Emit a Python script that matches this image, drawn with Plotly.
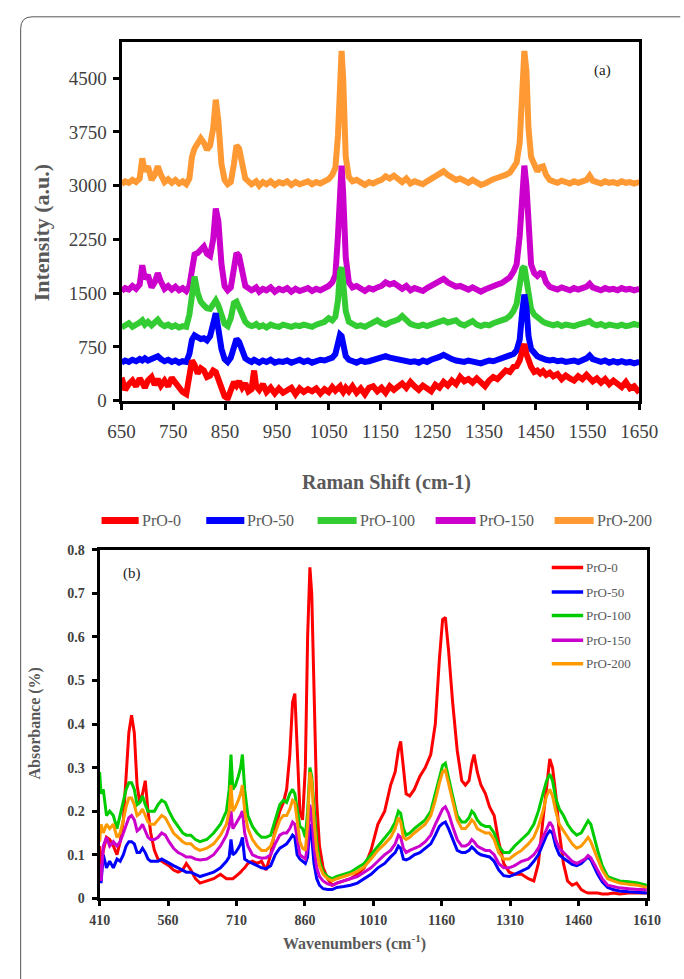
import plotly.graph_objects as go

W, H = 684, 979

series_names = ["PrO-0", "PrO-50", "PrO-100", "PrO-150", "PrO-200"]
raman_colors = ["#FF0000", "#0000FF", "#33CC33", "#CC00CC", "#FF9933"]
ftir_colors = ["#FF0000", "#0000FF", "#00CC00", "#CC00CC", "#FF9900"]

# ---------------- (a) Raman spectra ----------------
raman_shift = [
    650, 657, 664, 671, 678, 685, 690, 695, 701, 708,
    714, 720, 726, 733, 740, 747, 754, 761, 768, 775,
    781, 786, 791, 797, 803, 809, 815, 821, 827, 832,
    837, 843, 849, 855, 861, 867, 872, 877, 883, 889,
    895, 901, 906, 910, 916, 923, 930, 938, 946, 954,
    962, 970, 978, 986, 994, 1002, 1010, 1018, 1026, 1034,
    1042, 1050, 1057, 1063, 1068, 1072, 1075, 1078, 1083, 1089,
    1096, 1104, 1112, 1120, 1128, 1136, 1144, 1152, 1160, 1168,
    1176, 1184, 1192, 1200, 1208, 1216, 1224, 1232, 1240, 1248,
    1256, 1264, 1272, 1280, 1288, 1296, 1304, 1312, 1320, 1328,
    1336, 1344, 1352, 1360, 1368, 1376, 1384, 1392, 1400, 1407,
    1413, 1419, 1424, 1428, 1432, 1436, 1441, 1447, 1453, 1459,
    1464, 1470, 1477, 1484, 1492, 1500, 1508, 1516, 1524, 1532,
    1540, 1548, 1554, 1560, 1568, 1576, 1584, 1592, 1600, 1608,
    1616, 1624, 1632, 1640, 1650,
]

raman_pro0 = [
    320, 150, 230, 280, 200, 310, 250, 180, 280, 330,
    220, 300, 210, 280, 200, 320, 250, 180, 120, 90,
    300, 560, 500, 380, 450, 420, 330, 350, 420, 400,
    300, 180, 60, 30, 140, 260, 210, 270, 180, 240,
    130, 160, 420, 200, 150, 230, 120, 180, 100, 170,
    110, 150, 180, 90, 170, 120, 160, 130, 170, 100,
    160, 120, 190, 140, 170, 200, 150, 120, 180, 130,
    200, 110, 170, 90, 180, 200, 130, 180, 110, 200,
    150, 190, 240, 180, 260, 200, 150, 210, 170, 130,
    220, 180, 260, 210, 280, 230, 330, 270, 300, 250,
    310, 260, 200, 280, 330, 300, 370, 420, 400, 470,
    480, 560, 700, 790, 650, 540, 470, 400, 420, 380,
    410, 360, 390, 340, 370, 300, 350, 310, 280, 340,
    300, 360, 320, 270, 310, 250, 300, 230, 280, 240,
    190, 260, 170, 200, 110,
]

raman_pro50 = [
    530, 560, 540, 570, 550, 580, 560, 590, 560, 580,
    600, 620, 580, 550, 570, 540, 560, 530, 550, 540,
    650, 850, 910, 890, 860, 870, 840, 900, 1050, 1220,
    1000, 720, 580, 540, 600, 780, 860, 820, 680, 590,
    560, 540, 570, 550, 530, 560, 540, 570, 530, 550,
    540, 560, 530, 550, 570, 540, 560, 530, 550, 570,
    560, 580, 600, 650, 800, 920, 900, 780, 620, 570,
    550, 530, 560, 540, 550, 570, 580, 600, 620, 600,
    590, 570, 550, 560, 540, 550, 530, 560, 540, 570,
    580, 610, 640, 600, 580, 560, 550, 540, 560, 550,
    530, 520, 540, 560, 550, 570, 580, 600, 620, 650,
    700, 850, 1250, 1480, 1300, 900, 720, 660, 620, 600,
    580, 570, 560, 570, 550, 560, 540, 550, 560, 540,
    560, 590, 630, 580, 560, 540, 560, 530, 550, 530,
    550, 530, 540, 520, 540,
]

raman_pro100 = [
    1020, 1040, 1080, 1030, 1050, 1090, 1120, 1060, 1100, 1050,
    1090, 1130, 1070, 1040, 1060, 1030, 1050, 1020, 1040, 1030,
    1200, 1550, 1730, 1500, 1380, 1330, 1290, 1280, 1360, 1400,
    1330, 1170, 1070, 1040, 1150, 1360, 1380, 1300, 1200, 1100,
    1060, 1040, 1050, 1070, 1030, 1050, 1020, 1060, 1040, 1030,
    1060, 1040, 1030, 1050, 1040, 1060, 1050, 1030, 1060, 1080,
    1100, 1150, 1120, 1170, 1400, 1800, 1860, 1650, 1250, 1100,
    1060, 1040, 1050, 1030, 1060, 1100, 1120, 1080, 1060, 1090,
    1100, 1130, 1180, 1120, 1070, 1050, 1040, 1060, 1040, 1060,
    1080, 1110, 1120, 1090, 1100, 1120, 1070, 1050, 1080, 1110,
    1060, 1040, 1060, 1050, 1080, 1100, 1110, 1140, 1180, 1250,
    1350, 1600, 1840, 1870, 1700, 1450, 1280, 1200, 1160, 1120,
    1100, 1080, 1060, 1050, 1070, 1040, 1060, 1050, 1040, 1060,
    1070, 1090, 1110, 1070, 1050, 1070, 1040, 1060, 1050, 1040,
    1060, 1040, 1050, 1070, 1050,
]

raman_pro150 = [
    1530, 1570, 1550, 1600, 1560, 1620, 1890, 1700, 1750, 1580,
    1650, 1780, 1660, 1560, 1600, 1550, 1590, 1540, 1570, 1530,
    1600, 1900, 2040, 2060, 2120, 2150, 2050, 2020, 2250, 2680,
    2500, 1900, 1600, 1540, 1580, 1850, 2060, 2020, 1750, 1600,
    1570, 1540, 1560, 1580, 1520, 1560, 1540, 1580, 1520, 1560,
    1540, 1570, 1520, 1560, 1530, 1550, 1570, 1530, 1560, 1540,
    1570, 1600, 1650, 1750, 2300, 3100, 3280, 2900, 2000, 1650,
    1580, 1600, 1560, 1530, 1570, 1550, 1580, 1600, 1650, 1620,
    1640, 1590, 1560, 1600, 1540, 1570, 1550, 1530, 1570, 1600,
    1630, 1670, 1700, 1650, 1620, 1590, 1600, 1570, 1550, 1580,
    1540, 1520, 1550, 1580, 1600, 1620, 1640, 1680, 1720, 1800,
    1900, 2300, 3000, 3280, 3000, 2400, 1900, 1780, 1740, 1780,
    1770, 1650, 1590, 1570, 1550, 1580, 1560, 1540, 1570, 1550,
    1570, 1590, 1630, 1580, 1560, 1540, 1570, 1550, 1560, 1540,
    1570, 1550, 1560, 1540, 1560,
]

raman_pro200 = [
    3020, 3060, 3040, 3080, 3050, 3100, 3380, 3200, 3270, 3080,
    3150, 3270, 3150, 3050, 3090, 3040, 3080, 3030, 3060, 3020,
    3100, 3400, 3520, 3580, 3660, 3600, 3500, 3560, 3800, 4200,
    3900, 3300, 3080, 3020, 3050, 3300, 3560, 3520, 3250, 3100,
    3060, 3020, 3040, 3060, 3000, 3050, 3020, 3060, 3010, 3050,
    3030, 3060, 3010, 3050, 3020, 3040, 3060, 3020, 3050, 3030,
    3060, 3090, 3150, 3250, 3700, 4600, 4880, 4500, 3400, 3120,
    3060, 3080, 3040, 3010, 3050, 3030, 3060, 3080, 3130, 3100,
    3140, 3080, 3050, 3100, 3030, 3060, 3040, 3020, 3060, 3090,
    3120, 3160, 3200, 3150, 3110, 3080, 3100, 3060, 3040, 3080,
    3050, 3010, 3030, 3070, 3090, 3110, 3120, 3150, 3180, 3250,
    3320, 3600, 4300, 4880, 4600, 3800, 3400, 3280, 3200, 3260,
    3270, 3150, 3080, 3060, 3040, 3070, 3050, 3030, 3060, 3040,
    3060, 3080, 3140, 3070, 3050, 3030, 3060, 3040, 3050, 3030,
    3060, 3040, 3050, 3030, 3050,
]

raman_xticks = [650, 750, 850, 950, 1050, 1150, 1250, 1350, 1450, 1550, 1650]
raman_yticks = [0, 750, 1500, 2250, 3000, 3750, 4500]

# ---------------- (b) FTIR spectra ----------------
wavenumber = [
    410, 413, 418, 425, 432, 440, 448, 455, 462, 468,
    474, 480, 486, 492, 498, 504, 510, 516, 522, 530,
    538, 546, 554, 562, 572, 582, 592, 600, 610, 620,
    630, 645, 660, 675, 688, 694, 698, 702, 708, 714,
    719, 723, 728, 735, 745, 755, 765, 775, 785, 795,
    805, 813, 820, 827, 833, 838, 843, 849, 855, 861,
    866, 871, 875, 880, 886, 892, 900, 910, 920, 930,
    945, 960, 975, 990, 1005, 1020, 1035, 1048, 1058, 1065,
    1070, 1076, 1082, 1090, 1100, 1112, 1124, 1136, 1146, 1155,
    1162, 1168, 1175, 1184, 1194, 1204, 1212, 1220, 1226, 1231,
    1238, 1246, 1256, 1265, 1275, 1285, 1296, 1308, 1320, 1335,
    1350, 1362, 1372, 1382, 1390, 1397, 1403, 1410, 1418, 1427,
    1436, 1446, 1456, 1466, 1474, 1481, 1487, 1494, 1502, 1512,
    1524, 1536, 1550, 1570, 1590, 1610,
]

abs_pro0 = [
    0.12, 0.07, 0.11, 0.14, 0.135, 0.12, 0.10, 0.13, 0.18, 0.28,
    0.38, 0.42, 0.38, 0.26, 0.22, 0.24, 0.27, 0.20, 0.15, 0.11,
    0.09, 0.085, 0.08, 0.075, 0.065, 0.06, 0.065, 0.08, 0.065, 0.045,
    0.035, 0.04, 0.045, 0.055, 0.045, 0.045, 0.045, 0.045, 0.05, 0.055,
    0.06, 0.065, 0.07, 0.08, 0.085, 0.08, 0.085, 0.065, 0.10, 0.16,
    0.20, 0.22, 0.25, 0.33, 0.45, 0.47, 0.35, 0.20, 0.18, 0.30,
    0.60, 0.76, 0.70, 0.45, 0.22, 0.12, 0.07, 0.045, 0.03, 0.035,
    0.04, 0.045, 0.055, 0.07, 0.11, 0.17, 0.20, 0.26, 0.29, 0.34,
    0.36, 0.30, 0.24, 0.235, 0.25, 0.28, 0.30, 0.33, 0.40, 0.55,
    0.64, 0.645, 0.57, 0.45, 0.34, 0.27, 0.26, 0.27, 0.31, 0.33,
    0.29, 0.26, 0.24, 0.21, 0.19, 0.13, 0.08, 0.06, 0.055, 0.055,
    0.045, 0.04, 0.08, 0.18, 0.26, 0.32, 0.30, 0.24, 0.15, 0.08,
    0.04, 0.03, 0.035, 0.02, 0.015, 0.012, 0.012, 0.012, 0.012, 0.01,
    0.01, 0.012, 0.01, 0.012, 0.012, 0.012,
]

abs_pro50 = [
    0.05, 0.035, 0.10, 0.07, 0.085, 0.07, 0.09, 0.085, 0.10, 0.12,
    0.13, 0.13, 0.125, 0.105, 0.105, 0.115, 0.105, 0.09, 0.085, 0.085,
    0.085, 0.09, 0.085, 0.08, 0.075, 0.07, 0.065, 0.06, 0.06, 0.055,
    0.05, 0.055, 0.06, 0.07, 0.085, 0.095, 0.135, 0.10, 0.105, 0.115,
    0.125, 0.14, 0.09, 0.085, 0.08, 0.075, 0.07, 0.068, 0.075, 0.10,
    0.115, 0.12, 0.125, 0.135, 0.145, 0.14, 0.10, 0.09, 0.085, 0.08,
    0.095, 0.17, 0.14, 0.08, 0.045, 0.03, 0.022, 0.02, 0.02, 0.025,
    0.027, 0.03, 0.035, 0.045, 0.055, 0.07, 0.08, 0.095, 0.105, 0.12,
    0.115, 0.09, 0.088, 0.092, 0.10, 0.105, 0.115, 0.125, 0.145, 0.165,
    0.172, 0.175, 0.16, 0.135, 0.11, 0.105, 0.105, 0.11, 0.118, 0.113,
    0.105, 0.10, 0.098, 0.095, 0.085, 0.065, 0.052, 0.05, 0.055, 0.062,
    0.07, 0.085, 0.10, 0.125, 0.145, 0.155, 0.15, 0.12, 0.10, 0.092,
    0.085, 0.078, 0.075, 0.08, 0.088, 0.095, 0.088, 0.072, 0.055, 0.038,
    0.025, 0.02, 0.017, 0.015, 0.013, 0.012,
]

abs_pro100 = [
    0.29, 0.24, 0.25, 0.19, 0.20, 0.19, 0.16, 0.19, 0.22, 0.25,
    0.265, 0.265, 0.25, 0.215, 0.22, 0.235, 0.215, 0.20, 0.20, 0.20,
    0.215, 0.225, 0.22, 0.20, 0.18, 0.165, 0.15, 0.145, 0.145, 0.135,
    0.13, 0.135, 0.15, 0.17, 0.20, 0.25, 0.33, 0.25, 0.26, 0.28,
    0.30, 0.33, 0.25, 0.19, 0.165, 0.15, 0.14, 0.14, 0.145, 0.18,
    0.215, 0.225, 0.22, 0.24, 0.25, 0.24, 0.20, 0.165, 0.16, 0.14,
    0.20, 0.30, 0.28, 0.20, 0.13, 0.085, 0.06, 0.05, 0.045, 0.05,
    0.055, 0.06, 0.07, 0.08, 0.10, 0.12, 0.14, 0.155, 0.175, 0.20,
    0.195, 0.16, 0.145, 0.15, 0.16, 0.17, 0.18, 0.20, 0.24, 0.28,
    0.305, 0.31, 0.28, 0.235, 0.19, 0.175, 0.175, 0.185, 0.20, 0.195,
    0.18, 0.17, 0.165, 0.165, 0.15, 0.12, 0.105, 0.105, 0.12, 0.135,
    0.15, 0.17, 0.20, 0.24, 0.27, 0.285, 0.27, 0.23, 0.205, 0.19,
    0.17, 0.155, 0.145, 0.15, 0.165, 0.178, 0.17, 0.14, 0.11, 0.075,
    0.05, 0.045, 0.04, 0.038, 0.035, 0.03,
]

abs_pro150 = [
    0.08, 0.04, 0.12, 0.14, 0.12, 0.13, 0.12, 0.13, 0.15, 0.17,
    0.185, 0.19, 0.18, 0.155, 0.16, 0.17, 0.155, 0.14, 0.135, 0.135,
    0.14, 0.15, 0.145, 0.13, 0.115, 0.105, 0.10, 0.095, 0.095, 0.09,
    0.088, 0.09, 0.10, 0.12, 0.145, 0.165, 0.20, 0.16, 0.17, 0.18,
    0.19, 0.20, 0.15, 0.12, 0.10, 0.095, 0.092, 0.093, 0.10, 0.125,
    0.145, 0.15, 0.15, 0.16, 0.175, 0.17, 0.14, 0.10, 0.095, 0.09,
    0.12, 0.215, 0.19, 0.12, 0.07, 0.05, 0.04, 0.033, 0.03, 0.035,
    0.04, 0.045, 0.05, 0.06, 0.07, 0.085, 0.10, 0.11, 0.125, 0.145,
    0.14, 0.115, 0.105, 0.11, 0.115, 0.12, 0.13, 0.145, 0.17, 0.19,
    0.205, 0.21, 0.195, 0.165, 0.135, 0.12, 0.12, 0.125, 0.135, 0.13,
    0.12, 0.115, 0.11, 0.11, 0.10, 0.08, 0.07, 0.07, 0.075, 0.085,
    0.09, 0.10, 0.115, 0.14, 0.16, 0.175, 0.165, 0.135, 0.115, 0.105,
    0.095, 0.085, 0.08, 0.085, 0.09, 0.098, 0.093, 0.08, 0.065, 0.045,
    0.03, 0.027, 0.024, 0.022, 0.02, 0.02,
]

abs_pro200 = [
    0.13, 0.17, 0.15, 0.17, 0.16, 0.17, 0.14, 0.15, 0.18, 0.21,
    0.23, 0.23, 0.215, 0.19, 0.195, 0.205, 0.19, 0.175, 0.17, 0.17,
    0.18, 0.19, 0.185, 0.17, 0.15, 0.14, 0.13, 0.125, 0.125, 0.115,
    0.11, 0.115, 0.125, 0.145, 0.17, 0.20, 0.26, 0.20, 0.21, 0.225,
    0.24, 0.26, 0.20, 0.16, 0.135, 0.12, 0.11, 0.11, 0.12, 0.15,
    0.18, 0.19, 0.19, 0.205, 0.225, 0.22, 0.18, 0.13, 0.115, 0.11,
    0.17, 0.29, 0.27, 0.18, 0.11, 0.075, 0.055, 0.045, 0.04, 0.045,
    0.05, 0.055, 0.062, 0.072, 0.09, 0.11, 0.125, 0.14, 0.16, 0.185,
    0.175, 0.14, 0.135, 0.14, 0.15, 0.16, 0.17, 0.19, 0.225, 0.265,
    0.29, 0.295, 0.265, 0.22, 0.18, 0.16, 0.16, 0.17, 0.18, 0.175,
    0.16, 0.155, 0.15, 0.15, 0.135, 0.105, 0.09, 0.09, 0.10, 0.11,
    0.125, 0.14, 0.165, 0.20, 0.235, 0.25, 0.235, 0.20, 0.17, 0.155,
    0.14, 0.125, 0.115, 0.12, 0.13, 0.14, 0.13, 0.11, 0.09, 0.065,
    0.045, 0.04, 0.035, 0.032, 0.03, 0.025,
]

ftir_xticks = [410, 560, 710, 860, 1010, 1160, 1310, 1460, 1610]
ftir_yticks = [0, 0.1, 0.2, 0.3, 0.4, 0.5, 0.6, 0.7, 0.8]
ftir_yticklabels = ["0", "0.1", "0.2", "0.3", "0.4", "0.5", "0.6", "0.7", "0.8"]

raman_series = [raman_pro0, raman_pro50, raman_pro100, raman_pro150, raman_pro200]
ftir_series = [abs_pro0, abs_pro50, abs_pro100, abs_pro150, abs_pro200]

SERIF = "Liberation Serif, Times New Roman, serif"


def px(x):
    return x / W


def py(y):
    return 1 - y / H


fig = go.Figure()

# Raman traces (higher offsets drawn first)
for i in [4, 3, 2, 1, 0]:
    fig.add_trace(go.Scatter(
        x=raman_shift, y=raman_series[i], mode="lines", name=series_names[i],
        line=dict(color=raman_colors[i], width=6), xaxis="x", yaxis="y",
        showlegend=False,
    ))

# FTIR traces
for i in range(5):
    fig.add_trace(go.Scatter(
        x=wavenumber, y=ftir_series[i], mode="lines", name=series_names[i],
        line=dict(color=ftir_colors[i], width=3), xaxis="x2", yaxis="y2",
        showlegend=False,
    ))

axis_common = dict(
    showgrid=False, zeroline=False, showline=True, linecolor="black",
    mirror=True, ticks="outside", tickcolor="black",
)

fig.update_layout(
    width=W, height=H,
    margin=dict(l=0, r=0, t=0, b=0),
    paper_bgcolor="white", plot_bgcolor="white",
    showlegend=False,
    xaxis=dict(
        domain=[px(113), px(657)], anchor="y", range=[650, 1650],
        tickvals=raman_xticks, ticklen=6, tickwidth=2.5, linewidth=3,
        tickfont=dict(family=SERIF, size=19, color="#404040"),
        ticklabelstandoff=6, **axis_common,
    ),
    yaxis=dict(
        domain=[py(401), py(36)], anchor="x", range=[0, 5000],
        tickvals=raman_yticks, ticklen=6, tickwidth=2.5, linewidth=3,
        tickfont=dict(family=SERIF, size=19, color="#404040"),
        ticklabelstandoff=2, **axis_common,
    ),
    xaxis2=dict(
        domain=[px(90), px(665)], anchor="y2", range=[410, 1610],
        tickvals=ftir_xticks, ticklen=5, tickwidth=2.5, linewidth=3,
        tickfont=dict(family=SERIF, size=14, color="#404040", weight="bold"),
        ticklabelstandoff=2, **axis_common,
    ),
    yaxis2=dict(
        domain=[py(908), py(553)], anchor="x2", range=[0, 0.8],
        tickvals=ftir_yticks, ticktext=ftir_yticklabels, ticklen=5,
        tickwidth=2.5, linewidth=3,
        tickfont=dict(family=SERIF, size=14, color="#404040", weight="bold"),
        ticklabelstandoff=4, **axis_common,
    ),
)

shapes = []
annotations = []


def add_text(text, x, y, size, color, weight="normal", angle=0, xanchor="center"):
    annotations.append(dict(
        text=text, x=px(x), y=py(y), xref="paper", yref="paper",
        xanchor=xanchor, yanchor="middle", showarrow=False, textangle=angle,
        font=dict(family=SERIF, size=size, color=color, weight=weight),
    ))


# outer rounded frame
shapes.append(dict(
    type="path", xref="paper", yref="paper",
    path=f"M {px(7)},{py(995)} L {px(7)},{py(22)} Q {px(7)},{py(10)} {px(19)},{py(10)} L {px(700)},{py(10)}",
    line=dict(color="#555555", width=1),
))

# axis titles and panel labels
add_text("Intensity (a.u.)", 29, 230, 22, "#595959", "bold", -90)
add_text("Raman Shift (cm-1)", 391, 484, 20, "#595959", "bold")
add_text("Absorbance (%)", 22, 730, 16, "#595959", "bold", -90)
add_text("Wavenumbers (cm<sup>-1</sup>)", 358, 953, 16, "#595959", "bold")
add_text("(a)", 618, 65, 15, "#222222")
add_text("(b)", 124, 577, 15, "#222222")

# legend for (a): horizontal row
leg_lines = [(92, 131), (202, 242), (319, 360), (443, 485), (568, 609)]
for i, (x0, x1) in enumerate(leg_lines):
    shapes.append(dict(
        type="line", xref="paper", yref="paper",
        x0=px(x0), x1=px(x1), y0=py(523), y1=py(523),
        line=dict(color=raman_colors[i], width=7),
    ))
    add_text(series_names[i], x1 + 1, 523, 16, "#595959", xanchor="left")

# inset legend for (b)
inset_rows = [571, 596, 620, 645, 669]
for i, yy in enumerate(inset_rows):
    shapes.append(dict(
        type="line", xref="paper", yref="paper",
        x0=px(565), x1=px(598), y0=py(yy), y1=py(yy),
        line=dict(color=ftir_colors[i], width=3.5),
    ))
    add_text(series_names[i], 599, yy, 13, "#595959", xanchor="left")

fig.update_layout(shapes=shapes, annotations=annotations)

fig.write_html("out.html")
